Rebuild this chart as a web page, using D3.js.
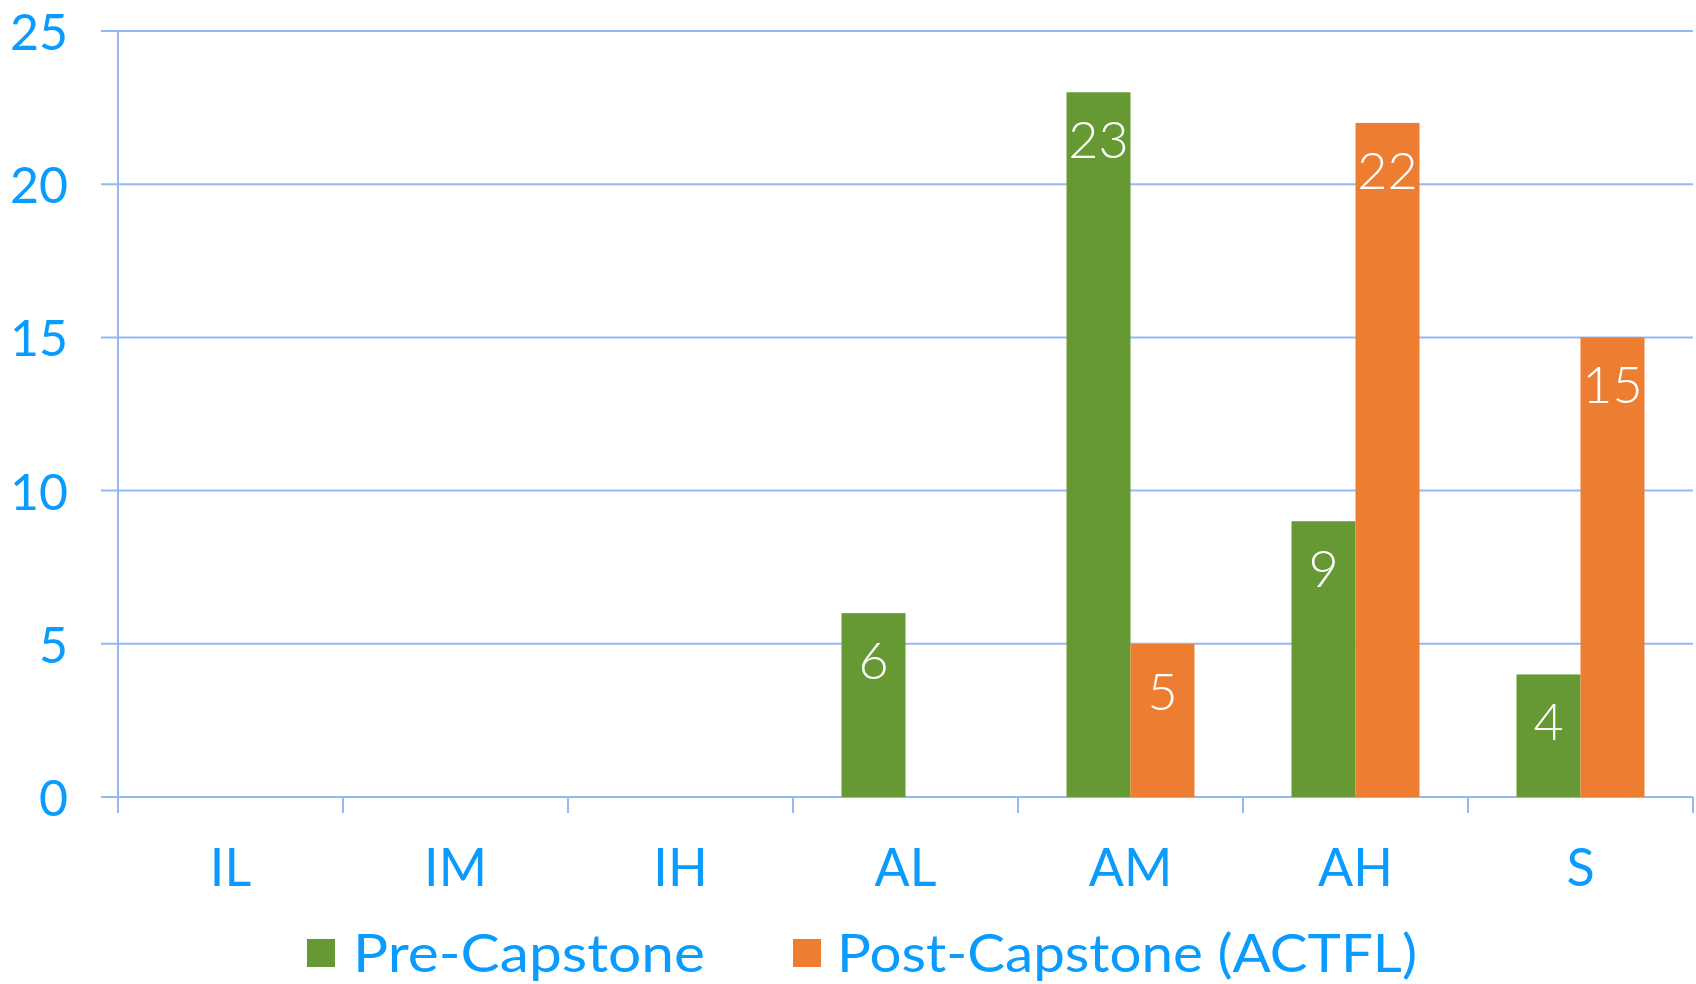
<!DOCTYPE html>
<html>
<head>
<meta charset="utf-8">
<script src="https://cdn.jsdelivr.net/npm/d3@7"></script>
<style>
  html, body { margin: 0; padding: 0; background: #ffffff; }
  svg { display: block; }
  text { font-family: "Lato", "DejaVu Sans", sans-serif; }
</style>
</head>
<body>
<svg id="chart" width="1696" height="984"></svg>
<script>
const categories = ["IL", "IM", "IH", "AL", "AM", "AH", "S"];
const seriesNames = ["Pre-Capstone", "Post-Capstone (ACTFL)"];
const preCapstone = [0, 0, 0, 6, 23, 9, 4];
const postCapstone = [0, 0, 0, 0, 5, 22, 15];
const yTicks = [0, 5, 10, 15, 20, 25];
const seriesColors = ["#669933", "#ED7D31"];

const textColor = "#0A9BFF";
const lineColor = "#93B9F5";

const svg = d3.select("#chart");
const plotLeft = 118, plotRight = 1693, plotTop = 31, plotBottom = 797;

const x0 = d3.scaleBand().domain(categories).range([plotLeft, plotRight]).paddingInner(0).paddingOuter(0);
const x1 = d3.scaleBand().domain(seriesNames).range([0, x0.bandwidth()]).paddingInner(0).paddingOuter(0.758);
const y = d3.scaleLinear().domain([0, 25]).range([plotBottom, plotTop]);

// gridlines
svg.append("g").selectAll("line").data(yTicks).join("line")
  .attr("x1", 101).attr("x2", plotRight)
  .attr("y1", d => y(d)).attr("y2", d => y(d))
  .attr("stroke", lineColor).attr("stroke-width", 2);

// y labels
svg.append("g").selectAll("text").data(yTicks).join("text")
  .attr("x", 68).attr("y", d => y(d))
  .attr("text-anchor", "end").attr("dominant-baseline", "central")
  .attr("fill", textColor).attr("font-size", 50)
  .text(d => d);

// vertical axis line
svg.append("line").attr("x1", plotLeft).attr("x2", plotLeft).attr("y1", plotTop).attr("y2", plotBottom + 16)
  .attr("stroke", lineColor).attr("stroke-width", 2);

// category ticks
const tickPos = categories.map(c => x0(c)).concat([plotRight]);
svg.append("g").selectAll("line").data(tickPos).join("line")
  .attr("x1", d => d).attr("x2", d => d).attr("y1", plotBottom).attr("y2", plotBottom + 16)
  .attr("stroke", lineColor).attr("stroke-width", 2);

// bars
const rows = categories.map((c, i) => ({cat: c, vals: [preCapstone[i], postCapstone[i]]}));
const groups = svg.append("g").selectAll("g").data(rows).join("g")
  .attr("transform", d => `translate(${x0(d.cat)},0)`);

groups.selectAll("rect").data(d => d.vals.map((v, j) => ({v, s: seriesNames[j], j})).filter(e => e.v > 0)).join("rect")
  .attr("x", e => x1(e.s)).attr("width", x1.bandwidth())
  .attr("y", e => y(e.v)).attr("height", e => y(0) - y(e.v))
  .attr("fill", e => seriesColors[e.j]);

groups.selectAll("text").data(d => d.vals.map((v, j) => ({v, s: seriesNames[j], j})).filter(e => e.v > 0)).join("text")
  .attr("x", e => x1(e.s) + x1.bandwidth() / 2)
  .attr("y", e => y(e.v) + 66)
  .attr("text-anchor", "middle").attr("fill", "#ffffff").attr("font-size", 52)
  .attr("font-weight", 300)
  .text(e => e.v);

// x labels
svg.append("g").selectAll("text").data(categories).join("text")
  .attr("x", d => x0(d) + x0.bandwidth() / 2).attr("y", 886)
  .attr("text-anchor", "middle").attr("fill", textColor).attr("font-size", 52)
  .text(d => d);

// legend
const legendItems = [
  {name: seriesNames[0], color: seriesColors[0], sx: 307, tx: 353, w: 352},
  {name: seriesNames[1], color: seriesColors[1], sx: 793, tx: 837, w: 580}
];
const lg = svg.append("g").selectAll("g").data(legendItems).join("g");
lg.append("rect").attr("x", d => d.sx).attr("y", 939).attr("width", 28).attr("height", 28).attr("fill", d => d.color);
lg.append("text").attr("x", d => d.tx).attr("y", 972).attr("fill", textColor).attr("font-size", 52)
  .attr("textLength", d => d.w).attr("lengthAdjust", "spacingAndGlyphs")
  .text(d => d.name);
</script>
</body>
</html>
